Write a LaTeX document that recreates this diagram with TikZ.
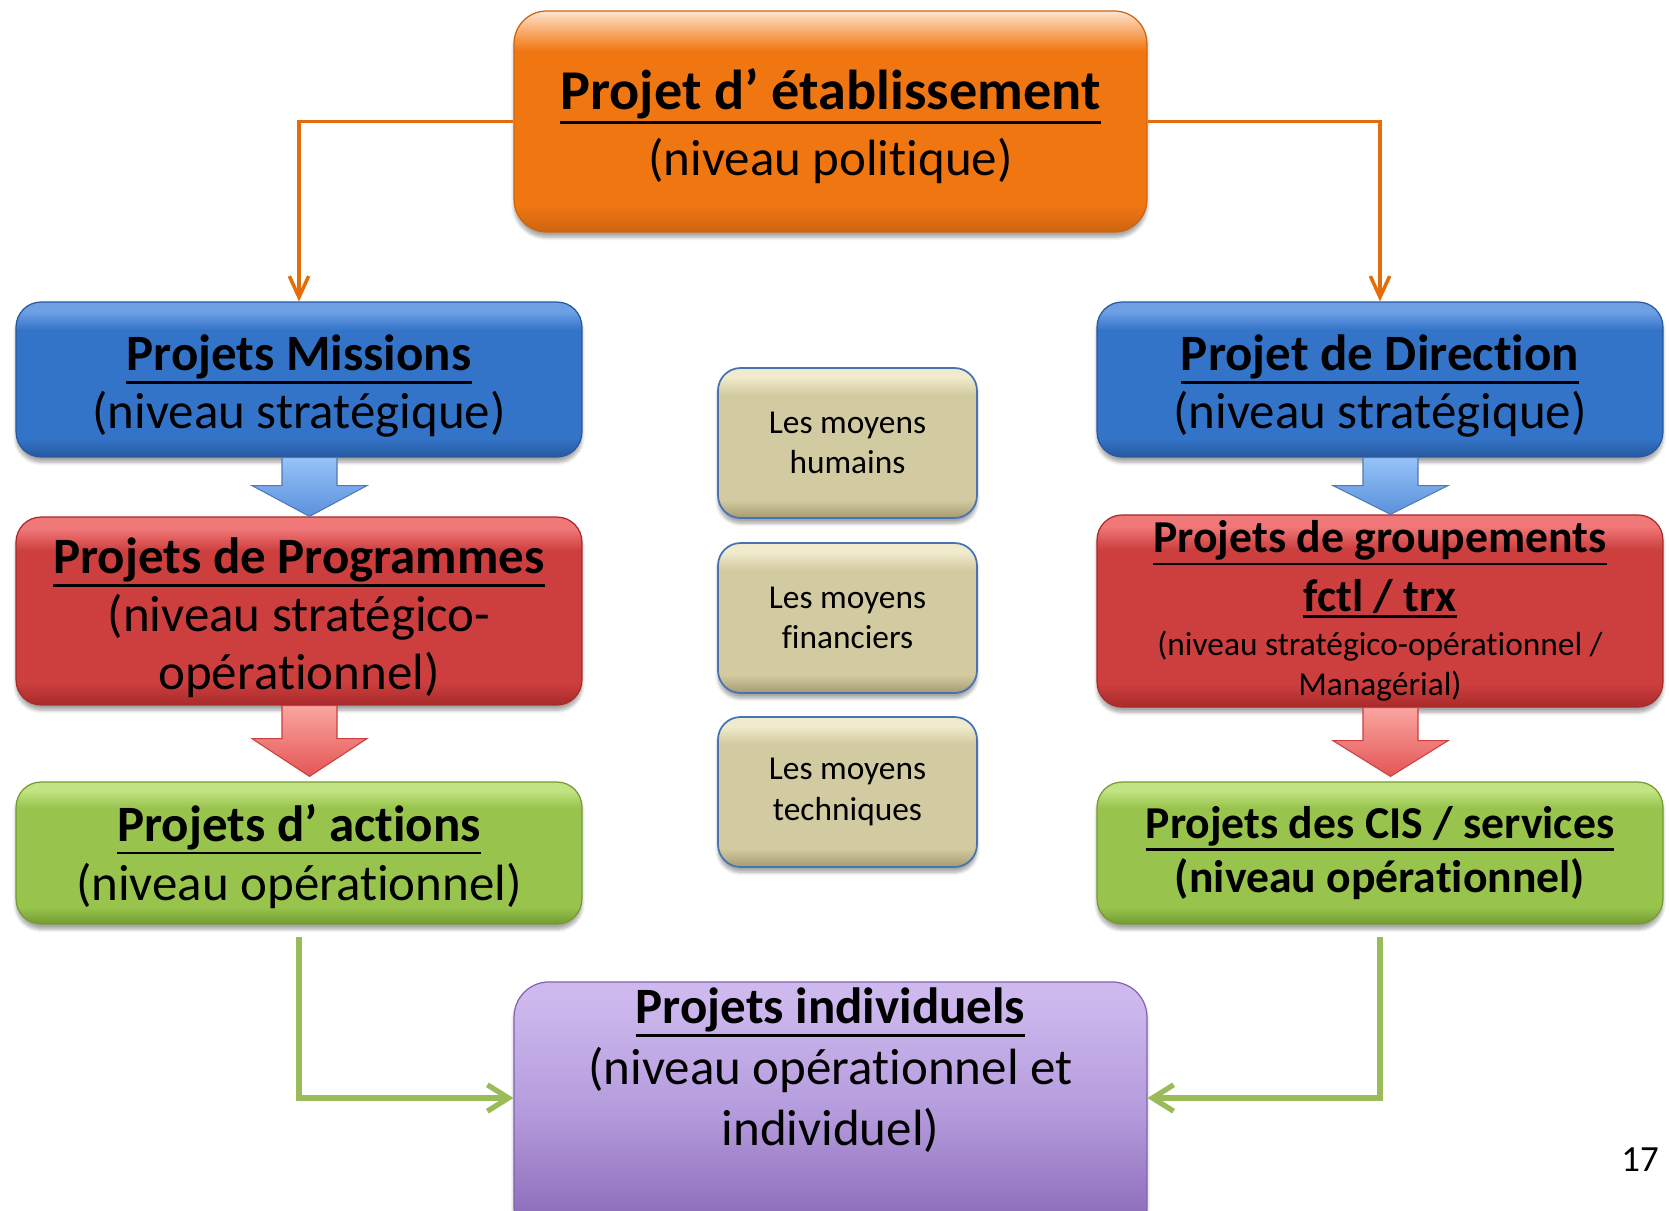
\documentclass[tikz,border=0pt]{standalone}
\usepackage{fontspec}
\setmainfont[Ligatures=NoCommon]{Carlito}
\usetikzlibrary{arrows.meta,calc,shadows.blur}

% thick underline below the descenders
\newcommand\uln[1]{\setbox0=\hbox{#1}\leavevmode
  \hbox{\rlap{\vrule width\wd0 height -\dimexpr\dp0+1.2pt\relax depth \dimexpr\dp0+2.5pt\relax}\box0}}
% invisible strut, lowers the text a little
\newcommand\lift[1]{\rule{0pt}{#1}}

\definecolor{orgtop}{RGB}{250,190,140}
\definecolor{orgmain}{RGB}{240,118,18}
\definecolor{orgbot}{RGB}{205,100,15}
\definecolor{orgline}{RGB}{228,108,10}
\definecolor{bluetop}{RGB}{110,160,230}
\definecolor{bluemain}{RGB}{52,116,200}
\definecolor{bluebot}{RGB}{38,88,160}
\definecolor{redtop}{RGB}{240,120,120}
\definecolor{redmain}{RGB}{205,62,62}
\definecolor{redbot}{RGB}{168,42,42}
\definecolor{greentop}{RGB}{195,228,130}
\definecolor{greenmain}{RGB}{152,196,78}
\definecolor{greenbot}{RGB}{115,155,50}
\definecolor{greenline}{RGB}{155,187,89}
\definecolor{purptop}{RGB}{205,185,238}
\definecolor{purpmain}{RGB}{180,155,220}
\definecolor{purpbot}{RGB}{132,98,178}
\definecolor{tantop}{RGB}{240,235,205}
\definecolor{tanmain}{RGB}{210,202,160}
\definecolor{tanbot}{RGB}{165,155,112}
\definecolor{tanborder}{RGB}{70,115,180}
\definecolor{arrbluetop}{RGB}{150,195,248}
\definecolor{arrbluebot}{RGB}{90,145,220}
\definecolor{arrredtop}{RGB}{250,165,160}
\definecolor{arrredbot}{RGB}{228,85,85}

% glossy shadings, the path fills 25bp..75bp
\pgfdeclareverticalshading{orgshade}{100bp}{color(0bp)=(orgbot); color(25bp)=(orgbot); color(31bp)=(orgmain); color(66bp)=(orgmain); color(72bp)=(orgtop); color(75bp)=(orgtop!40!white); color(100bp)=(orgtop!40!white)}
\pgfdeclareverticalshading{blueshade}{100bp}{color(0bp)=(bluebot); color(25bp)=(bluebot); color(31bp)=(bluemain); color(66bp)=(bluemain); color(72bp)=(bluetop); color(75bp)=(bluetop); color(100bp)=(bluetop)}
\pgfdeclareverticalshading{redshade}{100bp}{color(0bp)=(redbot); color(25bp)=(redbot); color(31bp)=(redmain); color(66bp)=(redmain); color(72bp)=(redtop); color(75bp)=(redtop); color(100bp)=(redtop)}
\pgfdeclareverticalshading{greenshade}{100bp}{color(0bp)=(greenbot); color(25bp)=(greenbot); color(31bp)=(greenmain); color(66bp)=(greenmain); color(72bp)=(greentop); color(75bp)=(greentop); color(100bp)=(greentop)}
\pgfdeclareverticalshading{purpshade}{100bp}{color(0bp)=(purpbot); color(25bp)=(purpbot); color(50bp)=(purpmain); color(72bp)=(purptop); color(75bp)=(purptop); color(100bp)=(purptop)}
\pgfdeclareverticalshading{tanshade}{100bp}{color(0bp)=(tanbot); color(25bp)=(tanbot); color(31bp)=(tanmain); color(66bp)=(tanmain); color(72bp)=(tantop); color(75bp)=(tantop); color(100bp)=(tantop)}
\pgfdeclareverticalshading{arrblueshade}{100bp}{color(0bp)=(arrbluebot); color(25bp)=(arrbluebot); color(75bp)=(arrbluetop); color(100bp)=(arrbluetop)}
\pgfdeclareverticalshading{arrredshade}{100bp}{color(0bp)=(arrredbot); color(25bp)=(arrredbot); color(75bp)=(arrredtop); color(100bp)=(arrredtop)}

\tikzset{
  boxbase/.style={shade,draw,line width=0.7pt,rounded corners=0.5cm,align=center,text=black,
    blur shadow={shadow xshift=0pt,shadow yshift=-3pt,shadow blur steps=6,shadow opacity=35}},
  orgbox/.style={boxbase,shading=orgshade,draw=orgbot,rounded corners=0.65cm,minimum width=12.66cm,minimum height=4.42cm,
    font=\fontsize{29}{37.4}\selectfont},
  bluebox/.style={boxbase,shading=blueshade,draw=bluebot,minimum width=11.32cm,minimum height=3.1cm,
    font=\fontsize{29}{33}\selectfont},
  redbox/.style={boxbase,shading=redshade,draw=redbot,minimum width=11.32cm,minimum height=3.76cm,
    font=\fontsize{29}{33}\selectfont},
  greenbox/.style={boxbase,shading=greenshade,draw=greenbot,minimum width=11.32cm,minimum height=2.84cm,
    font=\fontsize{29}{34}\selectfont},
  purpbox/.style={boxbase,shading=purpshade,draw=purpbot,rounded corners=0.7cm,minimum width=12.66cm,minimum height=5cm,
    font=\fontsize{29}{34.6}\selectfont},
  meansbox/.style={boxbase,shading=tanshade,draw=tanborder,line width=1pt,rounded corners=0.45cm,minimum width=5.18cm,minimum height=3cm,
    font=\fontsize{19}{23}\selectfont},
  bluearrow/.style={shading=arrblueshade,draw=bluebot!80!white,line width=0.6pt},
  redarrow/.style={shading=arrredshade,draw=redmain,line width=0.6pt},
  orgline/.style={draw=orgline,line width=2.2pt,-{Straight Barb[length=12pt,width=11pt,line width=2pt]}},
  greenconn/.style={draw=greenline,line width=3.4pt,-{Straight Barb[length=12pt,width=15pt,line width=3pt]}},
}

\begin{document}
\begin{tikzpicture}[x=0.02cm,y=-0.02cm]
\useasboundingbox (0,0) rectangle (1669,1210);

% free ends of the green links
\coordinate (actfoot) at (299,937);
\coordinate (cisfoot) at (1380,937);

\node[orgbox,text depth=2pt](etab)at(830.5,121.5){\lift{26pt}{\fontsize{32}{37}\selectfont\bfseries\uln{Projet d’ établissement}}\\(niveau politique)};

\node[bluebox](mis)at(299,379.5){\lift{28pt}\bfseries\uln{Projets Missions}\\(niveau stratégique)};
\node[bluebox](dir)at(1380,379.5){\lift{28pt}\bfseries\uln{Projet de Direction}\\(niveau stratégique)};

\node[redbox](prog)at(299,611){\lift{28pt}\bfseries\uln{Projets de Programmes}\\(niveau stratégico-\\opérationnel)};
\node[redbox,font=\fontsize{19}{23}\selectfont](grp)at(1380,611){{\fontsize{26}{30}\selectfont\bfseries\uln{Projets de groupements}}\\[7pt]
  {\fontsize{26}{30}\selectfont\bfseries\uln{fctl / trx}}\\[2pt](niveau stratégico-opérationnel /\\Managérial)};

\node[greenbox](act)at(299,853){\lift{25pt}\bfseries\uln{Projets d’ actions}\\(niveau opérationnel)};
\node[greenbox,font=\fontsize{26}{30.6}\selectfont\bfseries](cis)at(1380,853){\uln{Projets des CIS / services}\\(niveau opérationnel)};

\node[meansbox](hum)at(847.5,443){Les moyens\\humains};
\node[meansbox](fin)at(847.5,618){Les moyens\\financiers};
\node[meansbox](tech)at(847.5,792){Les moyens\\techniques};

\node[purpbox,text depth=53pt](indiv)at(830.5,1113){\bfseries\uln{Projets individuels}\\(niveau opérationnel et\\individuel)};

% links from the top box
\draw[orgline](etab.west)-|(mis.north);
\draw[orgline](etab.east)-|(dir.north);

% block arrows
\shade[bluearrow]($(mis.south)+(-17,0)$)--++(55,0)--++(0,28)--++(30,0)--($(prog.north)+(10.5,0)$)--($(mis.south)+(-47,28)$)--++(30,0)--cycle;
\shade[bluearrow]($(dir.south)+(-17,0)$)--++(55,0)--++(0,28)--++(30,0)--($(grp.north)+(10.5,0)$)--($(dir.south)+(-47,28)$)--++(30,0)--cycle;
\shade[redarrow]($(prog.south)+(-17,0)$)--++(55,0)--++(0,33)--++(30,0)--($(act.north)+(10.5,-5)$)--($(prog.south)+(-47,33)$)--++(30,0)--cycle;
\shade[redarrow]($(grp.south)+(-17,0)$)--++(55,0)--++(0,33)--++(30,0)--($(cis.north)+(10.5,-5)$)--($(grp.south)+(-47,33)$)--++(30,0)--cycle;

% links to the individual projects
\draw[greenconn](actfoot)|-($(indiv.west)+(0,-15)$);
\draw[greenconn](cisfoot)|-($(indiv.east)+(0,-15)$);

\node[font=\fontsize{21}{24}\selectfont](page)at(1640,1160){17};
\end{tikzpicture}
\end{document}
